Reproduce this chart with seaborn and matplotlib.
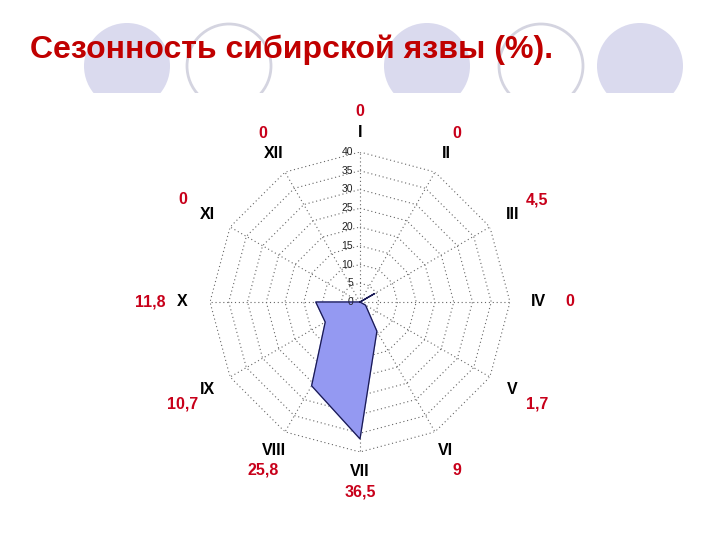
import numpy as np
import pandas as pd
import matplotlib
matplotlib.use("Agg")
import matplotlib.pyplot as plt
from matplotlib.patches import Circle, Rectangle
import seaborn as sns

# данные: сезонность сибирской язвы по месяцам (%)
months = ["I", "II", "III", "IV", "V", "VI", "VII", "VIII", "IX", "X", "XI", "XII"]
values = [0, 0, 4.5, 0, 1.7, 9, 36.5, 25.8, 10.7, 11.8, 0, 0]
ring_ticks = [0, 5, 10, 15, 20, 25, 30, 35, 40]
title = "Сезонность сибирской язвы (%)."

sns.set_style("white")
plt.rcParams['font.family'] = ['Liberation Sans', 'DejaVu Sans']

fig = plt.figure(figsize=(7.2, 5.4), dpi=100)

# фон слайда: декоративные круги
bg = fig.add_axes([0, 0, 1, 1], zorder=0)
bg.set_xlim(0, 720)
bg.set_ylim(540, 0)
bg.axis("off")
clip = Rectangle((0, 0), 720, 93, transform=bg.transData)
for cx, filled in [(127, True), (229, False), (427, True), (541, False), (640, True)]:
    if filled:
        c = Circle((cx, 66), 43, facecolor="#dadaee", edgecolor="none")
    else:
        c = Circle((cx, 66), 42, facecolor="none", edgecolor="#d4d4e0", linewidth=2)
    bg.add_patch(c)
    c.set_clip_path(clip)

fig.text(30 / 720, 1 - 58 / 540, title, fontsize=23, fontweight="bold",
         color="#c00000", va="baseline", ha="left")

# радарная диаграмма
ax = fig.add_axes([210 / 720, (540 - 302 - 150) / 540, 300 / 720, 300 / 540],
                  projection="polar", zorder=1)
ax.patch.set_alpha(0)
ax.set_theta_zero_location("N")
ax.set_theta_direction(-1)
ax.set_ylim(0, 40)
ax.grid(False)
ax.spines["polar"].set_visible(False)
ax.set_xticks([])
ax.set_yticks([])

n = len(months)
theta = np.arange(n) * 2 * np.pi / n
theta_c = np.append(theta, theta[0])

grid_kw = dict(color="#666666", linewidth=0.8, linestyle=(0, (1, 2.5)))
for r in ring_ticks[1:]:
    ax.plot(theta_c, [r] * (n + 1), **grid_kw)
for t in theta:
    ax.plot([t, t], [0, 40], **grid_kw)

df = pd.DataFrame({"theta": theta_c, "value": values + [values[0]]})
ax.fill(df["theta"], df["value"], color="#9499f2", zorder=3)
sns.lineplot(data=df, x="theta", y="value", sort=False, ax=ax,
             color="#1a1a50", linewidth=0.9, zorder=4)
ax.set_xlabel("")
ax.set_ylabel("")

for r in ring_ticks:
    ax.annotate(str(r), xy=(0, r), xytext=(-5, 0), textcoords="offset points",
                ha="right", va="center", fontsize=7.5, color="#222222")


def ellipse_r(t, a, b):
    # подписи лежат на эллипсе: a - по горизонтали, b - по вертикали
    return a * b / np.sqrt((b * np.sin(t)) ** 2 + (a * np.cos(t)) ** 2)


for t, m, v in zip(theta, months, values):
    ax.text(t, ellipse_r(t, 47.5, 45.3), m, ha="center", va="center",
            fontsize=11.5, fontweight="bold", color="black", clip_on=False)
    lab = f"{v:g}".replace(".", ",")
    ax.text(t, ellipse_r(t, 56, 50.7), lab, ha="center", va="center",
            fontsize=11.5, fontweight="bold", color="#c8001a", clip_on=False)

fig.savefig("out.png", dpi=100)
